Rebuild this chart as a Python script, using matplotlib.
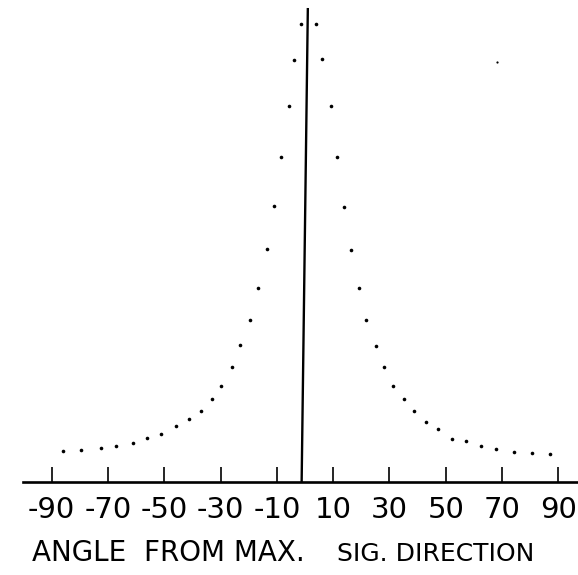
import matplotlib.pyplot as plt

# angle from max. signal direction (deg) and relative signal
left_angle = [-1.4, -3.8, -5.8, -8.4, -11.1, -13.5, -16.6, -19.7, -23.0, -26.1, -29.7,
              -32.9, -37.0, -41.3, -45.8, -51.1, -56.1, -61.2, -67.0, -72.6, -79.6, -86.1]
left_sig = [1.000, 0.923, 0.822, 0.711, 0.603, 0.510, 0.424, 0.355, 0.299, 0.253, 0.211,
            0.182, 0.156, 0.138, 0.123, 0.106, 0.096, 0.086, 0.080, 0.076, 0.071, 0.069]
right_angle = [3.8, 6.2, 9.1, 11.2, 13.8, 16.5, 19.2, 21.8, 25.1, 28.1, 31.3,
               35.2, 38.8, 42.9, 47.2, 52.2, 57.2, 62.7, 67.9, 74.4, 80.7, 87.2]
right_sig = [1.000, 0.924, 0.822, 0.711, 0.601, 0.507, 0.424, 0.355, 0.298, 0.251, 0.211,
             0.182, 0.155, 0.133, 0.117, 0.094, 0.091, 0.080, 0.073, 0.067, 0.064, 0.062]
stray_angle = [68.3]
stray_sig = [0.918]

ticks = [-90, -70, -50, -30, -10, 10, 30, 50, 70, 90]
tick_labels = ['-90', '-70', '-50', '-30', '-10', '10', '30', '50', '70', '90']

fig = plt.figure(figsize=(5.78, 5.75), dpi=100)
ax = fig.add_axes([0.0403, 0.1609, 0.9597, 0.8391])

ax.plot(left_angle, left_sig, 'o', color='black', markersize=2.6, markeredgewidth=0)
ax.plot(right_angle, right_sig, 'o', color='black', markersize=2.6, markeredgewidth=0)
ax.plot(stray_angle, stray_sig, 'o', color='black', markersize=1.6, markeredgewidth=0)

# centre line, slightly leaning as in the original
ax.plot([-1.2, 1.0], [0, 1.033], color='black', linewidth=1.7)

ax.set_xlim(-100.1, 97.0)
ax.set_ylim(0, 1.053)
for s in ['top', 'right', 'left']:
    ax.spines[s].set_visible(False)
ax.spines['bottom'].set_linewidth(1.9)
ax.set_yticks([])
ax.set_xticks(ticks)
ax.set_xticklabels(tick_labels)
ax.tick_params(axis='x', direction='in', length=11, width=1.2, pad=10,
               labelsize=21)

fig.text(0.055, 0.024, 'ANGLE  FROM MAX.', fontsize=20, ha='left', va='baseline')
fig.text(0.583, 0.024, 'SIG. DIRECTION', fontsize=18, ha='left', va='baseline')

fig.savefig('out.png', dpi=100)
